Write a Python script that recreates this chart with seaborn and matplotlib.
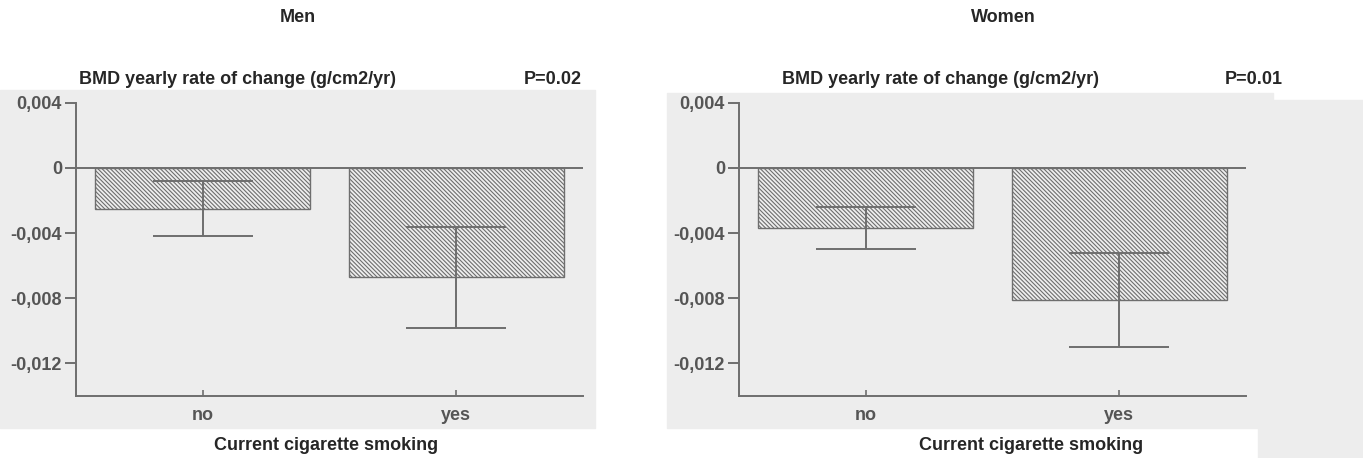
import pandas as pd
import matplotlib
matplotlib.use("Agg")
import matplotlib.pyplot as plt
from matplotlib.patches import Rectangle
import seaborn as sns

# Values
groups = ["no", "yes"]
men_mean = [-0.0025, -0.0067]
men_se = [0.0017, 0.0031]
women_mean = [-0.0037, -0.0081]
women_se = [0.0013, 0.0029]
p_values = ["P=0.02", "P=0.01"]
panel_titles = ["Men", "Women"]
yticks = [0.004, 0, -0.004, -0.008, -0.012]
ytick_labels = ["0,004", "0", "-0,004", "-0,008", "-0,012"]

sns.set_style("ticks")
plt.rcParams["font.family"] = ["Liberation Sans", "DejaVu Sans"]
plt.rcParams["hatch.linewidth"] = 0.8

W, H = 1363, 458
fig = plt.figure(figsize=(W / 100, H / 100), dpi=100)
fig.patch.set_facecolor("white")

def fx(px):
    return px / W

def fy(py):
    return 1 - py / H

# scanned page background (grey boxes)
for x0, y0, x1, y1 in [(0, 90, 595, 428), (667, 93, 1273, 428), (1258, 100, 1363, 458)]:
    fig.patches.append(Rectangle((fx(x0), fy(y1)), fx(x1 - x0), (y1 - y0) / H,
                                 transform=fig.transFigure, color="#ededed", zorder=-10))

gray = "#6e6e6e"

def draw_panel(rect, means, ses, title, pval, title_x, xlabel_x, bmd_x, p_x):
    ax = fig.add_axes(rect)
    ax.set_facecolor("none")
    df = pd.DataFrame({"smoking": groups, "bmd": means})
    sns.barplot(data=df, x="smoking", y="bmd", ax=ax, width=0.85,
                color="#eeeeee", edgecolor=gray, linewidth=1.0,
                hatch="\\" * 8, errorbar=None, saturation=1)
    ax.errorbar(range(len(groups)), means, yerr=ses, fmt="none",
                ecolor=gray, elinewidth=1.4, capsize=36, capthick=1.4)
    ax.axhline(0, color=gray, lw=1.4, zorder=3)
    ax.set_xlim(-0.5, 1.5)
    ax.set_ylim(-0.014, 0.004)
    ax.set_yticks(yticks)
    ax.set_yticklabels(ytick_labels)
    ax.set_xlabel("")
    ax.set_ylabel("")
    sns.despine(ax=ax)
    for s in ["left", "bottom"]:
        ax.spines[s].set_color(gray)
        ax.spines[s].set_linewidth(1.4)
    ax.tick_params(axis="y", direction="out", length=8, width=1.4, color=gray,
                   labelsize=13, labelcolor="#555555", pad=2)
    ax.tick_params(axis="x", direction="in", length=4, width=1.2, color=gray,
                   labelsize=13, labelcolor="#555555", pad=8)
    for lab in ax.get_xticklabels() + ax.get_yticklabels():
        lab.set_fontweight("bold")
    fig.text(fx(title_x), fy(18), title, ha="center", va="center",
             fontsize=13, fontweight="bold")
    fig.text(fx(bmd_x), fy(80), "BMD yearly rate of change (g/cm2/yr)",
             ha="center", va="center", fontsize=13, fontweight="bold")
    fig.text(fx(p_x), fy(80), pval, ha="right", va="center",
             fontsize=13, fontweight="bold")
    fig.text(fx(xlabel_x), fy(445), "Current cigarette smoking",
             ha="center", va="center", fontsize=13, fontweight="bold")
    return ax

bottom, height = fy(396), (396 - 102.7) / H
draw_panel([fx(76), bottom, fx(583 - 76), height], men_mean, men_se,
           panel_titles[0], p_values[0], 298, 326, 237, 582)
draw_panel([fx(739), bottom, fx(1246 - 739), height], women_mean, women_se,
           panel_titles[1], p_values[1], 1003, 1031, 941, 1283)

fig.savefig("out.png", dpi=100)
